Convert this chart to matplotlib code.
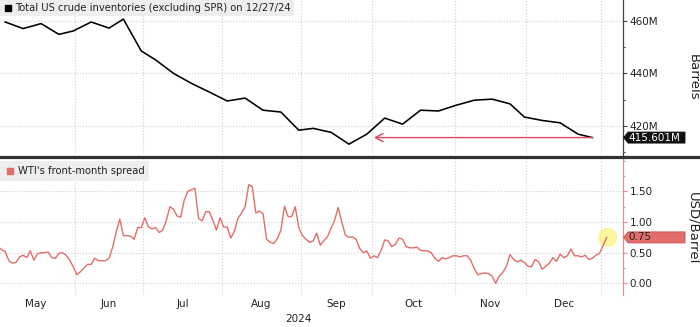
import matplotlib
matplotlib.use("Agg")
import matplotlib.pyplot as plt
from matplotlib.lines import Line2D
from matplotlib.path import Path
from matplotlib.ticker import FixedLocator, FuncFormatter, MultipleLocator
from matplotlib.transforms import blended_transform_factory
import numpy as np
import pandas as pd

# x axis runs on trading days (weekends and exchange holidays dropped)
START, END = "2024-05-01", "2025-01-03"
HOLIDAYS = ["2024-05-27", "2024-06-19", "2024-07-04", "2024-09-02",
            "2024-11-28", "2024-12-25", "2025-01-01"]

# weekly US crude stocks excluding SPR, million barrels (Fridays)
STOCKS_FIRST_WEEK = "2024-05-03"
STOCKS = [459.5, 457.0, 458.9, 454.8, 456.1, 459.5, 457.2, 460.6, 448.5,
          445.1, 440.0, 436.2, 432.9, 429.5, 430.6, 426.0, 425.3, 418.4,
          419.1, 417.6, 413.1, 416.9, 423.0, 420.7, 426.0, 425.7, 427.9,
          429.8, 430.2, 428.4, 423.4, 422.1, 421.2, 416.9, 415.601]
STOCKS_LABEL = "415.601M"
ARROW_FROM = "2024-10-01"

# WTI front-month spread (CL1 - CL2), USD/bbl, one value per trading day
SPREAD = [
    # May
    0.60, 0.55, 0.52, 0.37, 0.33, 0.34, 0.43, 0.46, 0.42, 0.53, 0.38,
    0.48, 0.50, 0.50, 0.51, 0.42, 0.41, 0.49, 0.50, 0.46, 0.38, 0.27,
    # Jun
    0.14, 0.19, 0.25, 0.31, 0.31, 0.41, 0.37, 0.37, 0.37, 0.41, 0.59,
    0.84, 1.05, 0.78, 0.78, 0.77, 0.72, 0.91, 0.91,
    # Jul
    1.07, 0.92, 0.89, 0.91, 0.83, 0.87, 1.03, 1.25, 1.21, 1.10, 1.08,
    1.36, 1.50, 1.53, 1.55, 1.06, 1.02, 1.17, 1.17, 1.03, 0.87, 1.07,
    # Aug
    0.92, 0.92, 0.74, 0.85, 1.06, 1.15, 1.25, 1.61, 1.58, 1.15, 1.18,
    1.14, 0.72, 0.67, 0.65, 0.73, 0.87, 1.26, 1.09, 1.09, 1.25, 0.91,
    # Sep
    0.78, 0.72, 0.67, 0.69, 0.82, 0.62, 0.70, 0.76, 0.90, 1.03, 1.24,
    1.00, 0.79, 0.75, 0.76, 0.72, 0.57, 0.50, 0.53, 0.41,
    # Oct
    0.45, 0.42, 0.54, 0.71, 0.69, 0.60, 0.64, 0.74, 0.72, 0.60, 0.58,
    0.58, 0.59, 0.54, 0.53, 0.53, 0.50, 0.41, 0.36, 0.42, 0.40, 0.42, 0.45,
    # Nov
    0.45, 0.43, 0.45, 0.45, 0.38, 0.24, 0.14, 0.16, 0.17, 0.16, 0.12,
    0.00, 0.12, 0.18, 0.28, 0.47, 0.39, 0.35, 0.38, 0.34,
    # Dec
    0.28, 0.27, 0.39, 0.35, 0.23, 0.28, 0.33, 0.42, 0.36, 0.48, 0.42,
    0.45, 0.56, 0.45, 0.45, 0.43, 0.46, 0.39, 0.41, 0.46, 0.49,
    # Jan
    0.62, 0.75,
]

MONTHS = ["May", "Jun", "Jul", "Aug", "Sep", "Oct", "Nov", "Dec"]
YEAR = "2024"

STOCKS_TITLE = "Total US crude inventories (excluding SPR) on 12/27/24"
SPREAD_TITLE = "WTI's front-month spread"

INK = "#222222"
GRID = "#cfcfcf"
SALMON = "#e36d6a"
ARROW_RED = "#d8485f"
FS = 7.5

W, H = 700, 327


def tag_box(width_px):
    """value tag: fixed-width box with a small point on the left"""
    def style(x0, y0, width, height, mutation_size):
        pad = 0.05 * mutation_size
        y0 -= pad
        height += 2 * pad
        tip = 0.42 * height
        left = x0 - pad
        right = left - tip + width_px
        verts = [(left - tip, y0 + height / 2), (left, y0), (right, y0),
                 (right, y0 + height), (left, y0 + height),
                 (left - tip, y0 + height / 2)]
        return Path(verts, closed=True)
    return style


def style_axis(ax, spine_color):
    for side in ("left", "top", "bottom"):
        ax.spines[side].set_visible(False)
    ax.spines["right"].set_color(spine_color)
    ax.spines["right"].set_linewidth(0.9)
    ax.yaxis.tick_right()
    ax.tick_params(axis="y", which="both", direction="out", colors=spine_color,
                   labelcolor=INK, labelsize=FS, pad=2)
    ax.tick_params(axis="y", which="major", length=3, width=0.8)
    ax.tick_params(axis="y", which="minor", length=1.5, width=0.8)
    ax.tick_params(axis="x", which="both", length=0)
    ax.grid(True, which="major", color=GRID, linestyle=":", linewidth=0.8)
    ax.set_axisbelow(True)


def add_legend(ax, label, color, borderpad, anchor_y):
    handle = Line2D([], [], marker="s", linestyle="none", color=color,
                    markersize=4.8)
    leg = ax.legend([handle], [label], loc="upper left",
                    bbox_to_anchor=(0, anchor_y), borderaxespad=0,
                    fontsize=7.2, frameon=True, fancybox=False,
                    facecolor="#eeeeee", edgecolor="none", framealpha=1,
                    handlelength=0.9, handletextpad=0.35, borderpad=borderpad)
    for t in leg.get_texts():
        t.set_color(INK)
    return leg


def add_tag(ax, y, text, face, edge, text_color):
    tr = blended_transform_factory(ax.transAxes, ax.transData)
    ax.annotate(text, xy=(1, y), xycoords=tr, xytext=(4.3, 0),
                textcoords="offset points", ha="left", va="center",
                fontsize=FS, color=text_color, annotation_clip=False,
                bbox=dict(boxstyle=tag_box(61.5), facecolor=face,
                          edgecolor=edge, linewidth=0.6))


def main():
    cal = pd.bdate_range(START, END, freq="C", holidays=HOLIDAYS)
    pos = np.arange(len(cal))
    weeks = pd.date_range(STOCKS_FIRST_WEEK, periods=len(STOCKS), freq="7D")
    wpos = cal.get_indexer(weeks)

    # month boundaries / centres in trading-day units
    per = cal.to_period("M")
    starts = np.flatnonzero(np.r_[True, per[1:] != per[:-1]])
    ends = np.r_[starts[1:], len(cal)] - 1
    bounds = starts - 0.5
    centres = (starts + ends) / 2.0

    fig = plt.figure(figsize=(W / 100, H / 100), dpi=100)
    ax_w = 622.7 / W
    ax1 = fig.add_axes([0, 1 - 155 / H, ax_w, 155 / H])
    ax2 = fig.add_axes([0, 1 - 295 / H, ax_w, 136 / H])

    xlim = (0.54, 174.47)

    # ── inventories ──
    style_axis(ax1, "#444444")
    ax1.plot(wpos, STOCKS, color="black", linewidth=1.15, zorder=3)
    ax1.set_xlim(*xlim)
    ax1.set_ylim(408.98, 467.86)
    ax1.yaxis.set_major_locator(FixedLocator([420, 440, 460]))
    ax1.yaxis.set_minor_locator(MultipleLocator(10))
    ax1.yaxis.set_major_formatter(FuncFormatter(lambda v, _: f"{v:.0f}M"))
    ax1.set_xticks(bounds[1:])
    ax1.set_xticklabels([])

    x_from = cal.get_loc(pd.Timestamp(ARROW_FROM))
    ax1.annotate("", xy=(x_from, STOCKS[-1]), xytext=(wpos[-1], STOCKS[-1]),
                 arrowprops=dict(arrowstyle="->,head_length=0.55,head_width=0.3",
                                 color=ARROW_RED, linewidth=1.0,
                                 shrinkA=0, shrinkB=0), zorder=4)
    add_tag(ax1, STOCKS[-1], STOCKS_LABEL, "#111111", "#111111", "white")
    add_legend(ax1, STOCKS_TITLE, "black", 0.3, 1.0)

    # ── spread ──
    style_axis(ax2, "#e89090")
    ax2.plot(pos, SPREAD, color=SALMON, linewidth=1.0, zorder=3)
    ax2.plot(pos[-1], SPREAD[-1], "o", markersize=14, color="#fff27a",
             alpha=0.7, markeredgewidth=0, zorder=2, clip_on=False)
    ax2.set_xlim(*xlim)
    ax2.set_ylim(-0.19, 2.03)
    ax2.yaxis.set_major_locator(FixedLocator([0, 0.5, 1.0, 1.5]))
    ax2.yaxis.set_minor_locator(MultipleLocator(0.25))
    ax2.yaxis.set_major_formatter(FuncFormatter(lambda v, _: f"{v:.2f}"))
    ax2.set_xticks(bounds[1:])
    ax2.set_xticklabels([])
    ax2.set_xticks(centres[:len(MONTHS)], minor=True)
    ax2.set_xticklabels(MONTHS, minor=True)
    ax2.tick_params(axis="x", which="minor", labelsize=FS, labelcolor=INK, pad=3)

    year_mid = (bounds[0] + bounds[len(MONTHS)]) / 2.0
    ax2.annotate(YEAR, xy=(year_mid, 0),
                 xycoords=blended_transform_factory(ax2.transData, ax2.transAxes),
                 xytext=(0, -17), textcoords="offset points",
                 ha="center", va="center", fontsize=FS, color=INK,
                 annotation_clip=False)

    add_tag(ax2, SPREAD[-1], f"{SPREAD[-1]:.2f}", SALMON, "#c85050", INK)
    add_legend(ax2, SPREAD_TITLE, SALMON, 0.5, 1 - 2 / 136)

    # panel separator
    fig.add_artist(Line2D([0, 1], [1 - 157 / H] * 2, transform=fig.transFigure,
                          color="#333333", linewidth=2.3))

    fig.text(693 / W, 1 - 77 / H, "Barrels", rotation=270, ha="center",
             va="center", fontsize=9.5, color=INK)
    fig.text(693 / W, 1 - 228 / H, "USD/Barrel", rotation=270, ha="center",
             va="center", fontsize=9.5, color=INK)

    fig.savefig("out.png", dpi=100)
    plt.close(fig)


if __name__ == "__main__":
    main()
